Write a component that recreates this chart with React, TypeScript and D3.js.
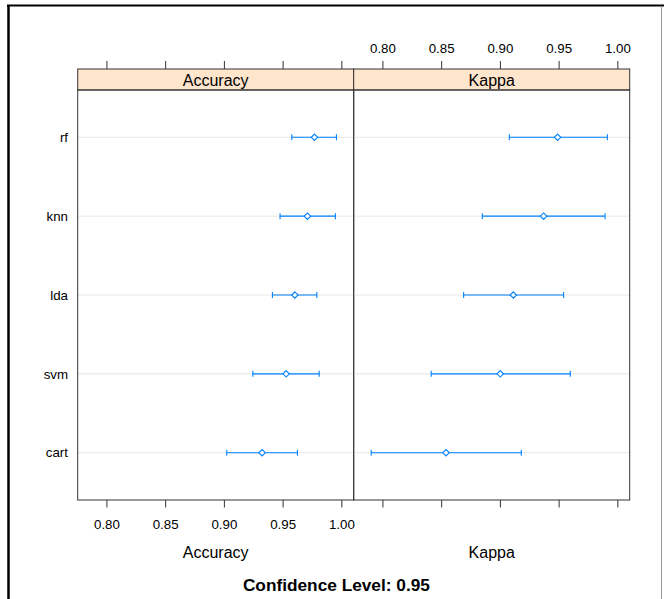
import React from "react";
import * as d3 from "d3";

const models = ["rf", "knn", "lda", "svm", "cart"];
const accuracyMean = [0.9767, 0.9707, 0.96, 0.9526, 0.9321];
const accuracyLower = [0.9574, 0.9474, 0.9409, 0.9242, 0.902];
const accuracyUpper = [0.9954, 0.9945, 0.9787, 0.9807, 0.9622];
const kappaMean = [0.9487, 0.9368, 0.911, 0.8999, 0.8537];
const kappaLower = [0.9076, 0.8846, 0.8687, 0.8411, 0.79];
const kappaUpper = [0.9911, 0.9891, 0.9538, 0.9595, 0.9178];
const tickValues = [0.8, 0.85, 0.9, 0.95, 1.0];
const xDomain: [number, number] = [0.7751, 1.0101];
const panelNames = ["Accuracy", "Kappa"];
const title = "Confidence Level: 0.95";

const FONT = "'Liberation Sans', Arial, sans-serif";
const BLUE = "#0080ff";

export default function App() {
  const W = 664;
  const H = 599;
  const top = 90;
  const bottom = 500;
  const stripTop = 69;
  const panelL = [77.7, 353.7];
  const panelW = 276;

  const y = d3.scalePoint<string>().domain(models).range([top, bottom]).padding(0.6);

  const panels = [
    { name: panelNames[0], mean: accuracyMean, lo: accuracyLower, hi: accuracyUpper },
    { name: panelNames[1], mean: kappaMean, lo: kappaLower, hi: kappaUpper },
  ].map((p, i) => ({
    ...p,
    x: d3.scaleLinear().domain(xDomain).range([panelL[i], panelL[i] + panelW]),
    left: panelL[i],
  }));

  const fmt = d3.format(".2f");

  return (
    <svg
      width={W}
      height={H}
      style={{ position: "fixed", left: 0, top: 0, background: "#fff" }}
      fontFamily={FONT}
    >
      <rect x={0} y={0} width={W} height={H} fill="#fff" />
      {/* outer frame */}
      <line x1={7} x2={664} y1={5.5} y2={5.5} stroke="#000" strokeWidth={2} />
      <line x1={8.5} x2={8.5} y1={5} y2={599} stroke="#000" strokeWidth={2.5} />
      <line x1={661.5} x2={661.5} y1={6} y2={599} stroke="#9a9a9a" strokeWidth={1} />

      {panels.map((p, pi) => (
        <g key={p.name}>
          {/* grid lines */}
          {models.map((m) => (
            <line
              key={m}
              x1={p.left}
              x2={p.left + panelW}
              y1={y(m)}
              y2={y(m)}
              stroke="#e6e6e6"
              strokeWidth={1}
            />
          ))}
          {/* strip */}
          <rect
            x={p.left}
            y={stripTop}
            width={panelW}
            height={top - stripTop}
            fill="#ffe5cc"
            stroke="#333"
            strokeWidth={1}
          />
          <text
            x={p.left + panelW / 2}
            y={86}
            textAnchor="middle"
            fontSize={16}
            fill="#000"
          >
            {p.name}
          </text>
          {/* top ticks */}
          {tickValues.map((t) => (
            <line
              key={"tt" + t}
              x1={p.x(t)}
              x2={p.x(t)}
              y1={61}
              y2={stripTop}
              stroke="#333"
            />
          ))}
          {pi === 1 &&
            tickValues.map((t) => (
              <text
                key={"tl" + t}
                x={p.x(t)}
                y={53}
                textAnchor="middle"
                fontSize={13.3}
                fill="#000"
              >
                {fmt(t)}
              </text>
            ))}
          {/* bottom ticks */}
          {tickValues.map((t) => (
            <line
              key={"bt" + t}
              x1={p.x(t)}
              x2={p.x(t)}
              y1={bottom}
              y2={507.5}
              stroke="#333"
            />
          ))}
          {pi === 0 &&
            tickValues.map((t) => (
              <text
                key={"bl" + t}
                x={p.x(t)}
                y={529}
                textAnchor="middle"
                fontSize={13.3}
                fill="#000"
              >
                {fmt(t)}
              </text>
            ))}
          {/* axis title */}
          <text
            x={p.left + panelW / 2}
            y={557.5}
            textAnchor="middle"
            fontSize={16}
            fill="#000"
          >
            {p.name}
          </text>
          {/* error bars */}
          {models.map((m, i) => {
            const yy = y(m) as number;
            const x0 = p.x(p.lo[i]);
            const x1 = p.x(p.hi[i]);
            const xm = p.x(p.mean[i]);
            const s = 3.2;
            return (
              <g key={m} stroke={BLUE} fill="none" strokeWidth={1.1}>
                <line x1={x0} x2={x1} y1={yy} y2={yy} />
                <line x1={x0} x2={x0} y1={yy - 3} y2={yy + 3} />
                <line x1={x1} x2={x1} y1={yy - 3} y2={yy + 3} />
                <path
                  d={`M${xm},${yy - s}L${xm + s},${yy}L${xm},${yy + s}L${xm - s},${yy}Z`}
                  fill="#fff"
                />
              </g>
            );
          })}
          {/* panel border */}
          <rect
            x={p.left}
            y={top}
            width={panelW}
            height={bottom - top}
            fill="none"
            stroke="#333"
            strokeWidth={1}
          />
        </g>
      ))}

      {/* row labels */}
      {models.map((m) => (
        <text
          key={m}
          x={68}
          y={(y(m) as number) + 4.7}
          textAnchor="end"
          fontSize={13.3}
          fill="#000"
        >
          {m}
        </text>
      ))}

      <text
        x={336.4}
        y={590.7}
        textAnchor="middle"
        fontSize={16}
        fontWeight="bold"
        textLength={187}
        lengthAdjust="spacingAndGlyphs"
        fill="#000"
      >
        {title}
      </text>
    </svg>
  );
}
